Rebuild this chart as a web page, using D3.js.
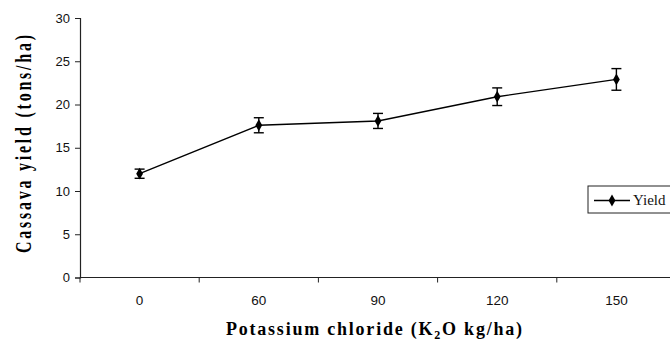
<!DOCTYPE html>
<html>
<head>
<meta charset="utf-8">
<script src="https://cdn.jsdelivr.net/npm/d3@7"></script>
<style>
  html, body { margin: 0; padding: 0; background: #fff; }
  svg { display: block; }
</style>
</head>
<body>
<svg id="chart" width="670" height="341"></svg>
<script>
const categories = ["0", "60", "90", "120", "150"];
const yieldValues = [12.0, 17.6, 18.1, 20.9, 22.9];
const yieldErrors = [0.53, 0.87, 0.87, 1.02, 1.25];
const yTicks = [0, 5, 10, 15, 20, 25, 30];
const seriesName = "Yield";

const svg = d3.select("#chart");
const plotLeft = 80, plotRight = 676, plotTop = 18, plotBottom = 277.5;

const x = d3.scaleBand().domain(categories).range([plotLeft, plotRight]).padding(0);
const y = d3.scaleLinear().domain([0, 30]).range([plotBottom, plotTop]);

const data = categories.map((c, i) => ({ c, v: yieldValues[i], e: yieldErrors[i] }));

// Y axis
const yAxis = d3.axisLeft(y).tickValues(yTicks).tickSize(5).tickPadding(5);
const gy = svg.append("g").attr("transform", `translate(${plotLeft},0)`).call(yAxis);
gy.select(".domain").attr("stroke", "#222").attr("stroke-width", 1.2);
gy.selectAll(".tick line").attr("stroke", "#222");
gy.selectAll(".tick text").attr("font-family", "Liberation Sans, Arial, sans-serif")
  .attr("font-size", 13).attr("fill", "#111");

// X axis
const gx = svg.append("g").attr("transform", `translate(0,${plotBottom})`);
gx.append("line").attr("x1", plotLeft).attr("x2", plotRight).attr("y1", 0).attr("y2", 0)
  .attr("stroke", "#222").attr("stroke-width", 1.2);
const boundaries = categories.map(c => x(c)).concat([x(categories[categories.length - 1]) + x.bandwidth()]);
gx.selectAll("line.tick").data(boundaries).enter().append("line")
  .attr("class", "tick").attr("x1", d => d).attr("x2", d => d)
  .attr("y1", 0).attr("y2", 5).attr("stroke", "#222");
gx.selectAll("text.lab").data(categories).enter().append("text")
  .attr("class", "lab")
  .attr("x", d => x(d) + x.bandwidth() / 2).attr("y", 27.5)
  .attr("text-anchor", "middle")
  .attr("font-family", "Liberation Sans, Arial, sans-serif").attr("font-size", 13.5)
  .attr("fill", "#111").text(d => d);

// Line
const cx = d => x(d.c) + x.bandwidth() / 2;
svg.append("path").datum(data)
  .attr("d", d3.line().x(cx).y(d => y(d.v)))
  .attr("fill", "none").attr("stroke", "#000").attr("stroke-width", 1.4);

// Error bars
const eb = svg.append("g").attr("stroke", "#000").attr("stroke-width", 1.4);
data.forEach(d => {
  const X = cx(d);
  eb.append("line").attr("x1", X).attr("x2", X).attr("y1", y(d.v + d.e)).attr("y2", y(d.v - d.e));
  eb.append("line").attr("x1", X - 5).attr("x2", X + 5).attr("y1", y(d.v + d.e)).attr("y2", y(d.v + d.e));
  eb.append("line").attr("x1", X - 5).attr("x2", X + 5).attr("y1", y(d.v - d.e)).attr("y2", y(d.v - d.e));
});

// Markers
const diamond = d3.symbol().type(d3.symbolDiamond).size(40);
svg.selectAll("path.pt").data(data).enter().append("path")
  .attr("class", "pt").attr("d", diamond)
  .attr("transform", d => `translate(${cx(d)},${y(d.v)})`)
  .attr("fill", "#000");

// Axis titles
svg.append("text")
  .attr("x", 374).attr("y", 335)
  .attr("text-anchor", "middle")
  .attr("font-family", "Liberation Serif, Times New Roman, serif")
  .attr("font-weight", "bold").attr("font-size", 18)
  .attr("textLength", 296).attr("lengthAdjust", "spacing")
  .html('Potassium chloride (K<tspan font-size="12" dy="4">2</tspan><tspan dy="-4">O kg/ha)</tspan>');

svg.append("text")
  .attr("transform", "translate(30.5,144) rotate(-90) scale(1,1.5)")
  .attr("text-anchor", "middle")
  .attr("font-family", "Liberation Serif, Times New Roman, serif")
  .attr("font-weight", "bold").attr("font-size", 16)
  .attr("textLength", 218).attr("lengthAdjust", "spacing")
  .text("Cassava yield (tons/ha)");

// Legend
const lg = svg.append("g");
lg.append("rect").attr("x", 588).attr("y", 186).attr("width", 90).attr("height", 27)
  .attr("fill", "#fff").attr("stroke", "#222").attr("stroke-width", 1);
lg.append("line").attr("x1", 594).attr("x2", 630).attr("y1", 200.5).attr("y2", 200.5)
  .attr("stroke", "#000").attr("stroke-width", 1.4);
lg.append("path").attr("d", diamond).attr("transform", "translate(612,200.5)").attr("fill", "#000");
lg.append("text").attr("x", 633).attr("y", 205)
  .attr("font-family", "Liberation Serif, Times New Roman, serif").attr("font-size", 15)
  .attr("fill", "#111").text(seriesName);
</script>
</body>
</html>
